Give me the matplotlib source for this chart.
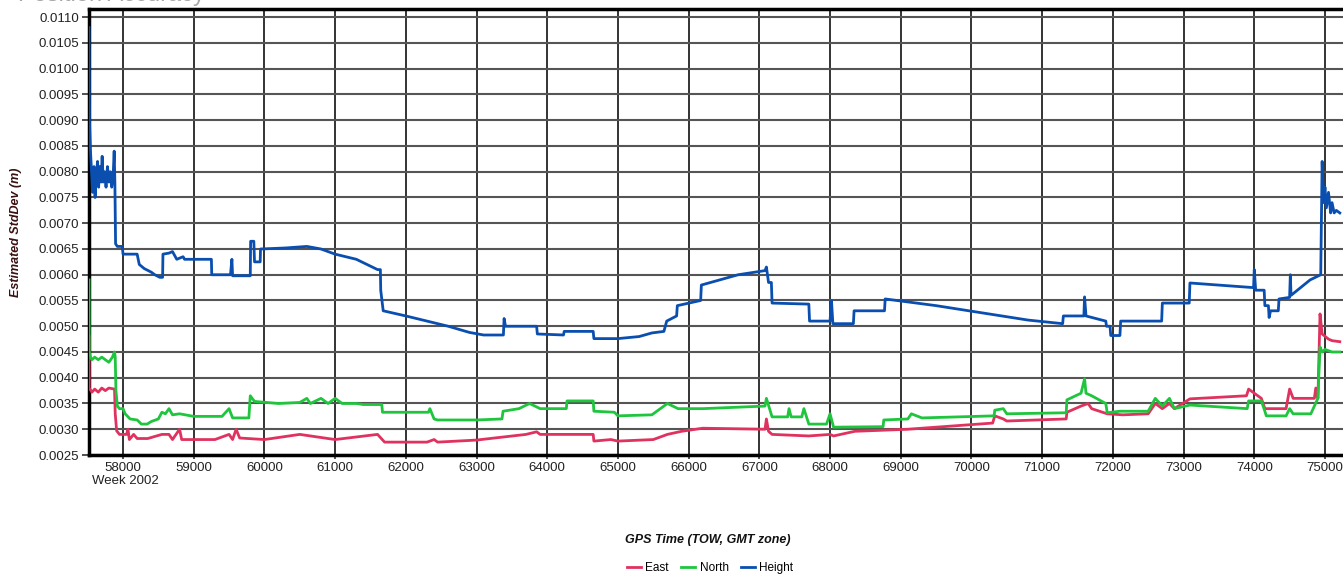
import matplotlib.pyplot as plt

# GPS time of week (s) and estimated std dev (m)
height_t = [57520, 57525, 57540, 57555, 57570, 57590, 57605, 57620, 57640, 57655, 57670,
            57690, 57705, 57720, 57740, 57760, 57780, 57800, 57820, 57840, 57860, 57875,
            57885, 57895, 57920, 57990, 58000, 58200, 58230, 58300, 58400, 58450, 58520,
            58560, 58565, 58650, 58700, 58760, 58850, 58870, 59250, 59255, 59520, 59540,
            59550, 59800, 59805, 59850, 59860, 59940, 59945, 60300, 60600, 60800, 61000,
            61300, 61600, 61640, 61645, 61680, 62000, 62300, 62600, 62900, 63100, 63380,
            63390, 63410, 63850, 63860, 64230, 64240, 64650, 64660, 65000, 65300, 65480,
            65650, 65690, 65830, 65840, 66170, 66180, 66700, 67080, 67100, 67130, 67170,
            67180, 67700, 67710, 68000, 68020, 68040, 68330, 68340, 68770, 68780, 69500,
            70200, 70800, 71290, 71300, 71590, 71600, 71620, 71900, 71910, 71960, 71970,
            72100, 72110, 72690, 72700, 73080, 73090, 73990, 74000, 74020, 74140, 74150,
            74200, 74210, 74230, 74340, 74350, 74500, 74510, 74520, 74790, 74940, 74960,
            74980, 75000, 75020, 75050, 75080, 75100, 75130, 75160, 75210]
height_v = [0.0108, 0.0090, 0.0084, 0.0080, 0.0076, 0.0081, 0.0075, 0.0079, 0.0082, 0.0077, 0.0081,
            0.0078, 0.0083, 0.0078, 0.0080, 0.0077, 0.0081, 0.0078, 0.0080, 0.0077, 0.0079, 0.0084,
            0.0078, 0.0066, 0.00655, 0.00655, 0.0064, 0.0064, 0.0062, 0.00612, 0.00605, 0.0060, 0.00595,
            0.00595, 0.0064, 0.00642, 0.00645, 0.0063, 0.00635, 0.0063, 0.0063, 0.0060, 0.0060, 0.0063,
            0.00598, 0.00598, 0.00665, 0.00665, 0.00625, 0.00625, 0.0065, 0.00652, 0.00655, 0.0065, 0.0064,
            0.0063, 0.0061, 0.0061, 0.0057, 0.0053, 0.0052, 0.0051, 0.0050, 0.00488, 0.00483, 0.00483,
            0.00515, 0.0050, 0.0050, 0.00485, 0.00483, 0.0049, 0.0049, 0.00476, 0.00476, 0.0048, 0.00487,
            0.0049, 0.0051, 0.0052, 0.0054, 0.0055, 0.0058, 0.0060, 0.00608, 0.00615, 0.00585, 0.00585,
            0.00545, 0.00543, 0.0051, 0.0051, 0.0055, 0.00505, 0.00505, 0.0053, 0.0053, 0.00553, 0.0054,
            0.00525, 0.00512, 0.00505, 0.0052, 0.0052, 0.00557, 0.0052, 0.0051, 0.0050, 0.0050, 0.00482,
            0.00482, 0.0051, 0.0051, 0.00545, 0.00545, 0.00584, 0.00575, 0.0061, 0.0057, 0.0057, 0.0054,
            0.0054, 0.00517, 0.0053, 0.0053, 0.00553, 0.00556, 0.0060, 0.0056, 0.0059, 0.0060, 0.0082,
            0.0074, 0.0077, 0.0073, 0.0076, 0.0072, 0.0074, 0.0072, 0.00725, 0.0072]

north_t = [57520, 57522, 57540, 57560, 57600, 57650, 57700, 57750, 57800, 57850, 57880,
           57890, 57900, 57920, 57950, 58000, 58030, 58100, 58200, 58260, 58340, 58400,
           58500, 58550, 58600, 58650, 58700, 58800, 59000, 59400, 59500, 59550, 59780,
           59800, 59860, 60200, 60500, 60600, 60650, 60800, 60900, 61000, 61100, 61300,
           61400, 61660, 61670, 62320, 62340, 62400, 62450, 63000, 63360, 63375, 63600,
           63750, 63900, 64270, 64280, 64650, 64660, 64950, 65000, 65480, 65700, 65850,
           66200, 67080, 67100, 67180, 67400, 67420, 67450, 67600, 67630, 67700, 67950,
           68000, 68050, 68750, 68760, 69100, 69150, 69300, 70320, 70330, 70450, 70500,
           71340, 71350, 71550, 71600, 71620, 71700, 71900, 71920, 72100, 72500, 72600,
           72700, 72800, 72870, 73090, 73900, 73920, 74100, 74150, 74170, 74450, 74500,
           74550, 74800, 74900, 74930, 74960, 75000, 75100, 75210]
north_v = [0.0059, 0.0045, 0.0044, 0.00435, 0.0044, 0.00435, 0.0044, 0.00435, 0.0043, 0.0044, 0.0045,
           0.0044, 0.00375, 0.00345, 0.0034, 0.0034, 0.0033, 0.0032, 0.00318, 0.0031, 0.0031, 0.00315,
           0.0032, 0.00333, 0.0033, 0.0034, 0.00328, 0.0033, 0.00325, 0.00325, 0.0034, 0.00322, 0.00322,
           0.00365, 0.00354, 0.0035, 0.00352, 0.0036, 0.0035, 0.0036, 0.0035, 0.0036, 0.0035, 0.0035,
           0.00348, 0.00348, 0.00333, 0.00333, 0.0034, 0.0032, 0.00318, 0.00318, 0.0032, 0.00335, 0.0034,
           0.0035, 0.0034, 0.0034, 0.00355, 0.00355, 0.00335, 0.00333, 0.00326, 0.00328, 0.0035, 0.0034,
           0.0034, 0.00345, 0.0036, 0.00324, 0.00324, 0.0034, 0.00324, 0.00324, 0.0034, 0.0031, 0.0031,
           0.0033, 0.00304, 0.00305, 0.00318, 0.0032, 0.0033, 0.00322, 0.00326, 0.00337, 0.0034, 0.0033,
           0.00332, 0.00357, 0.0037, 0.00398, 0.0037, 0.00365, 0.0035, 0.00332, 0.00335, 0.00335, 0.0036,
           0.00345, 0.0036, 0.0034, 0.00347, 0.0034, 0.00355, 0.00355, 0.00335, 0.00326, 0.00326, 0.0034,
           0.0033, 0.0033, 0.0036, 0.0046, 0.0045, 0.00455, 0.0045, 0.0045]

east_t = [57520, 57522, 57560, 57600, 57650, 57700, 57750, 57800, 57880, 57890, 57910,
          57950, 58050, 58070, 58090, 58150, 58200, 58350, 58550, 58650, 58700, 58800,
          58830, 59300, 59500, 59550, 59600, 59650, 60000, 60500, 61000, 61600, 61700,
          62300, 62400, 62450, 63000, 63700, 63850, 63900, 64650, 64660, 64900, 65000,
          65500, 65700, 65900, 66200, 67080, 67100, 67130, 67180, 67700, 68000, 68050,
          68350, 69100, 70300, 70330, 70450, 70500, 71340, 71350, 71550, 71650, 71700,
          71920, 72140, 72500, 72600, 72700, 72800, 72870, 73090, 73890, 73920, 74100,
          74150, 74450, 74500, 74550, 74850, 74870, 74900, 74930, 74960, 75050, 75100,
          75210]
east_v = [0.0048, 0.0038, 0.00372, 0.00378, 0.00372, 0.0038, 0.00375, 0.0038, 0.00378, 0.0033, 0.00297,
          0.0029, 0.0029, 0.0030, 0.0028, 0.0029, 0.00282, 0.00282, 0.0029, 0.0029, 0.0028, 0.0030,
          0.0028, 0.0028, 0.0029, 0.0028, 0.0030, 0.00283, 0.0028, 0.0029, 0.0028, 0.0029, 0.00275,
          0.00275, 0.0028, 0.00275, 0.00279, 0.0029, 0.00295, 0.0029, 0.0029, 0.00277, 0.0028, 0.00277,
          0.0028, 0.0029, 0.00296, 0.00302, 0.0030, 0.0032, 0.00296, 0.0029, 0.00287, 0.0029, 0.00287,
          0.00296, 0.0030, 0.00312, 0.00326, 0.0032, 0.00316, 0.0032, 0.00333, 0.00345, 0.0035, 0.0034,
          0.0033, 0.00328, 0.0033, 0.0035, 0.0034, 0.0035, 0.0034, 0.00359, 0.00365, 0.00378, 0.0036,
          0.0034, 0.0034, 0.00378, 0.0036, 0.0036, 0.0038, 0.0036, 0.00524, 0.00485, 0.00475, 0.00472,
          0.0047]

x_ticks = list(range(58000, 75001, 1000))
y_ticks = [0.0025 + 0.0005 * i for i in range(18)]

plt.rcParams['font.family'] = ['Liberation Sans', 'DejaVu Sans']

fig = plt.figure(figsize=(13.43, 5.76), dpi=100)
ax = fig.add_axes([89 / 1343, 1 - 455 / 576, 1 - 89 / 1343, (455 - 9) / 576])

ax.plot(east_t, east_v, color='#e0325f', lw=2, label='East', zorder=3)
ax.plot(north_t, north_v, color='#1ec53d', lw=2, label='North', zorder=3)
ax.plot(height_t, height_v, color='#0a4fb0', lw=2, label='Height', zorder=4)

ax.set_xlim(57519, 75255)
ax.set_ylim(0.0025, 0.01116)
ax.set_xticks(x_ticks)
ax.set_yticks(y_ticks)
ax.set_yticklabels(['%.4f' % v for v in y_ticks])
ax.tick_params(axis='y', labelsize=9.5, length=5, width=1.2, pad=2, color='#333333', labelcolor='#222222')
ax.tick_params(axis='x', labelsize=9.5, length=3, width=1.2, pad=2, color='#333333', labelcolor='#222222')

ax.grid(True, axis='y', color='#555555', lw=1.5)
ax.grid(True, axis='x', color='#111111', lw=1.2)
ax.set_axisbelow(True)
for side in ['left', 'bottom', 'top']:
    ax.spines[side].set_linewidth(2.5)
ax.spines['right'].set_visible(False)

ax.set_ylabel('Estimated StdDev (m)', fontsize=9, fontstyle='italic', fontweight='bold',
              color='#3a1010', labelpad=12)
fig.text(92 / 1343, 1 - 481 / 576, 'Week 2002', fontsize=9.5, color='#222222', va='center', ha='left')
fig.text(708 / 1343, 1 - 540 / 576, 'GPS Time (TOW, GMT zone)', fontsize=9, fontstyle='italic',
         fontweight='bold', ha='center', va='center', color='#111111')
fig.legend(loc='center', bbox_to_anchor=(710 / 1343, 1 - 568 / 576), ncol=3, frameon=False,
           fontsize=8.5, handlelength=1.2, handletextpad=0.4, columnspacing=1.0)

# title of the report page, mostly cut off above the image
fig.text(205 / 1343, 1 - 1 / 576, 'Position Accuracy', fontsize=17, color='#a8a8a8',
         ha='right', va='baseline')

fig.savefig('out.png', dpi=100)
